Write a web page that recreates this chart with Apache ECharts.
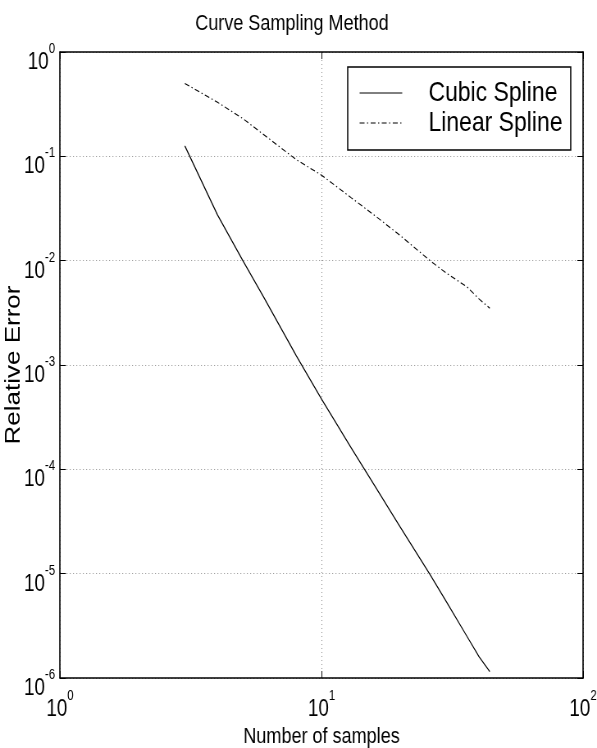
<!DOCTYPE html>
<html>
<head>
<meta charset="utf-8">
<script src="https://cdn.jsdelivr.net/npm/echarts@6/dist/echarts.min.js"></script>
<style>
html, body { margin: 0; padding: 0; background: #fff; overflow: hidden; }
/* the original figure is a horizontally squeezed print: draw wide, then squeeze */
#chart { width: 728px; height: 748px; transform: scaleX(0.82005); transform-origin: 0 0; }
</style>
</head>
<body>
<div id="chart"></div>
<script>
// samples (n) and relative errors
const samples = [3, 4, 5, 6, 8, 10, 13, 16, 20, 26, 30, 36, 40, 44];
const cubicErr = [0.126, 0.0275, 0.010, 0.0045, 0.00123, 4.7e-4, 1.6e-4, 6.9e-5, 2.8e-5, 9.8e-6, 5.4e-6, 2.5e-6, 1.6e-6, 1.15e-6];
const linearErr = [0.50, 0.33, 0.23, 0.162, 0.093, 0.066, 0.040, 0.027, 0.0174, 0.010, 0.0076, 0.0056, 0.0043, 0.0035];
const seriesNames = ["Cubic Spline", "Linear Spline"];

const font = "'Liberation Sans', Arial, Helvetica, sans-serif";

function pow10(v) {
    const e = Math.round(Math.log10(v));
    return "{b|10}{e|" + e + "}";
}
// "10" sits low in a tall line, exponent hangs at the top
const tickRich = {
    b: { fontSize: 23, lineHeight: 32, fontFamily: font, color: "#000", verticalAlign: "bottom" },
    e: { fontSize: 14, lineHeight: 14, fontFamily: font, color: "#000", verticalAlign: "top" }
};

const chart = echarts.init(document.getElementById("chart"));

const pair = (a, b) => a.map((x, i) => [x, b[i]]);

const boxAxis = {
    axisLine: { show: true, lineStyle: { color: "#000", width: 1.6 } },
    axisTick: { show: true, inside: true, length: 7, lineStyle: { color: "#000", width: 1 } },
    minorTick: { show: false }
};

chart.setOption({
    animation: false,
    title: {
        text: "Curve Sampling Method",
        left: 351,
        textAlign: "center",
        top: 8,
        textStyle: { fontFamily: font, fontWeight: "normal", fontSize: 22, color: "#000" }
    },
    legend: {
        orient: "vertical",
        left: 424,
        top: 67,
        padding: [11, 10, 12, 14],
        itemGap: 0,
        itemWidth: 52,
        itemHeight: 14,
        borderColor: "#000",
        borderWidth: 1.5,
        borderRadius: 0,
        backgroundColor: "#fff",
        itemStyle: { opacity: 0 },
        lineStyle: { width: 1 },
        textStyle: { fontFamily: font, fontSize: 28, lineHeight: 30, color: "#000", padding: [0, 0, 0, 27] },
        data: seriesNames
    },
    grid: { left: 73.2, right: 17, top: 52, bottom: 70, outerBoundsMode: "none", containLabel: false },
    xAxis: [Object.assign({
        type: "log",
        logBase: 10,
        min: 1,
        max: 100,
        interval: 1,
        name: "Number of samples",
        nameLocation: "middle",
        nameGap: 48,
        nameMoveOverlap: false,
        nameTextStyle: { fontFamily: font, fontSize: 22, color: "#000" },
        axisLabel: { formatter: pow10, rich: tickRich, margin: 11 },
        splitLine: { show: true, lineStyle: { color: "#888", type: [1, 3], width: 1 } }
    }, boxAxis), Object.assign({
        type: "log",
        logBase: 10,
        min: 1,
        max: 100,
        interval: 1,
        position: "top",
        axisLabel: { show: false },
        splitLine: { show: false }
    }, boxAxis)],
    yAxis: [Object.assign({
        type: "log",
        logBase: 10,
        min: 1e-6,
        max: 1,
        interval: 1,
        name: "Relative Error",
        nameLocation: "middle",
        nameGap: 43,
        nameMoveOverlap: false,
        nameTextStyle: { fontFamily: font, fontSize: 26, color: "#000" },
        axisLabel: { formatter: pow10, rich: tickRich, margin: 6, padding: [12, 0, 0, 0] },
        splitLine: { show: true, lineStyle: { color: "#888", type: [1, 3], width: 1 } }
    }, boxAxis), Object.assign({
        type: "log",
        logBase: 10,
        min: 1e-6,
        max: 1,
        interval: 1,
        position: "right",
        axisLabel: { show: false },
        splitLine: { show: false }
    }, boxAxis)],
    series: [{
        name: seriesNames[0],
        type: "line",
        data: pair(samples, cubicErr),
        symbol: "none",
        lineStyle: { color: "#000", width: 1.2 },
        itemStyle: { color: "#000" }
    }, {
        name: seriesNames[1],
        type: "line",
        data: pair(samples, linearErr),
        symbol: "none",
        lineStyle: { color: "#000", width: 1.1, type: [6, 3, 1.5, 3] },
        itemStyle: { color: "#000" }
    }]
});
</script>
</body>
</html>
